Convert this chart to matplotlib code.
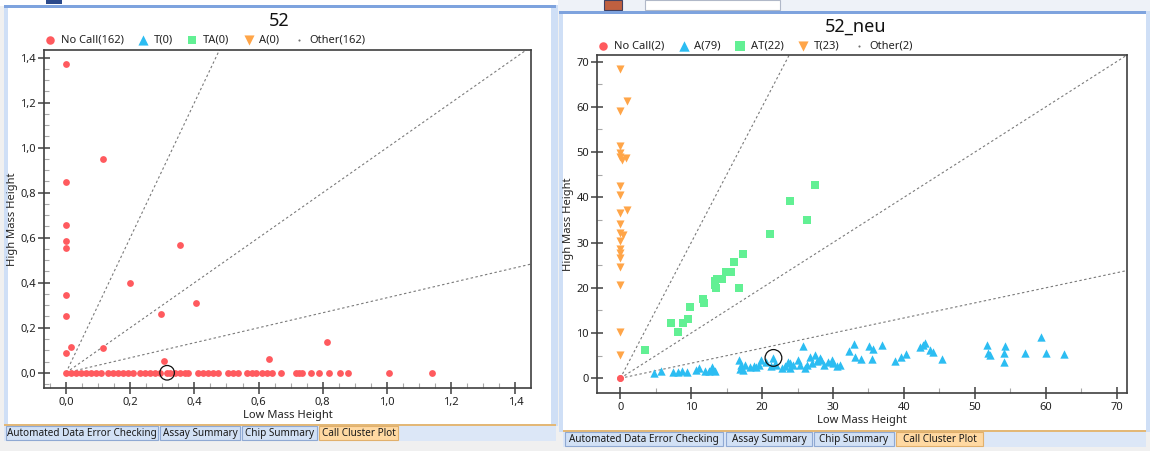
import matplotlib
matplotlib.use("Agg")
import matplotlib.pyplot as plt
from matplotlib.patches import Rectangle
from matplotlib.ticker import MultipleLocator

plt.rcParams['font.family'] = ['Noto Sans', 'DejaVu Sans']

# ---------------- data: left panel "52" ----------------
left_title = "52"
left_legend = ["No Call(162)", "T(0)", "TA(0)", "A(0)", "Other(162)"]
nc_left_x = [0, 0, 0, 0, 0, 0, 0, 0, 0.015, 0.114, 0.116, 0.200, 0.355, 0.405,
             0.297, 0.306, 0.633, 0.814,
             0, 0.016, 0.031, 0.047, 0.062, 0.078, 0.093, 0.109, 0.132, 0.147,
             0.163, 0.179, 0.194, 0.210, 0.231, 0.246, 0.262, 0.277, 0.293, 0.314,
             0.324, 0.340, 0.355, 0.371, 0.381, 0.412, 0.428, 0.443, 0.459, 0.475,
             0.506, 0.521, 0.537, 0.563, 0.578, 0.592, 0.610, 0.625, 0.641, 0.670,
             0.716, 0.726, 0.734, 0.762, 0.788, 0.820, 0.853, 0.877, 1.007, 1.140]
nc_left_y = [1.372, 0.846, 0.656, 0.585, 0.556, 0.345, 0.252, 0.089, 0.116, 0.948,
             0.111, 0.397, 0.567, 0.308, 0.261, 0.052, 0.059, 0.138] + [0.0] * 50
sel_left = (0.315, 0.0)
left_ticks = [0.0, 0.2, 0.4, 0.6, 0.8, 1.0, 1.2, 1.4]
left_ticklabels = ["0,0", "0,2", "0,4", "0,6", "0,8", "1,0", "1,2", "1,4"]

# ---------------- data: right panel "52_neu" ----------------
right_title = "52_neu"
right_legend = ["No Call(2)", "A(79)", "AT(22)", "T(23)", "Other(2)"]
nc_right_x = [0, 0]
nc_right_y = [0, 0]
a_x = [4.7, 5.7, 7.5, 8.2, 8.7, 9.4, 10.7, 11.1, 12.5, 12.9, 13.1, 13.4, 16.8, 16.9,
       17.3, 17.6, 18.3, 19.2, 19.9, 20.6, 21.2, 21.6, 22.8, 23.2, 23.6, 23.9, 24.4,
       25.1, 25.4, 25.7, 26.0, 26.8, 27.0, 27.5, 28.1, 28.3, 28.7, 29.8, 30.0, 30.5,
       32.2, 33.0, 33.1, 34.0, 35.1, 35.5, 35.7, 36.9, 38.8, 39.6, 40.3, 42.3, 42.7,
       43.0, 43.7, 44.1, 45.3, 51.7, 51.9, 52.1, 54.1, 54.3, 54.1, 57.1, 59.4, 60.0,
       62.6, 13.0, 17.0, 19.5, 22.0, 24.0, 26.3, 27.8, 29.3, 31.0, 21.8, 12.0, 18.8]
a_y = [1.1, 1.7, 1.3, 1.3, 1.5, 1.3, 1.8, 2.2, 1.5, 2.6, 1.8, 1.6, 4.1, 2.0,
       1.8, 2.9, 2.4, 2.4, 4.1, 3.7, 2.7, 4.4, 2.2, 2.7, 3.5, 2.2, 2.9,
       4.1, 2.9, 7.1, 2.2, 4.8, 3.3, 5.2, 4.4, 4.1, 2.9, 4.1, 3.3, 2.7,
       6.1, 7.6, 4.8, 4.3, 7.1, 4.2, 6.4, 7.4, 3.8, 4.8, 5.4, 6.9, 7.4,
       7.7, 6.3, 5.9, 4.2, 7.4, 5.5, 5.2, 5.5, 7.1, 3.5, 5.5, 9.1, 5.5,
       5.4, 2.0, 3.0, 3.0, 3.0, 3.3, 3.0, 3.8, 3.5, 3.0, 3.2, 1.7, 2.8]
at_x = [3.5, 7.2, 8.1, 8.8, 9.6, 9.8, 11.7, 11.8, 13.4, 13.5, 13.6, 14.3, 14.9, 15.6,
        16.0, 16.7, 17.3, 21.1, 23.9, 26.3, 27.5, 13.4]
at_y = [6.3, 12.2, 10.3, 12.3, 13.0, 15.8, 17.5, 16.6, 21.4, 19.9, 21.9, 21.9, 23.6, 23.4,
        25.8, 19.9, 27.4, 31.8, 39.2, 34.9, 42.7, 20.6]
t_x = [0, 0.9, 0, 0, 0, 0, 0.8, 0.3, 0, 0, 0.9, 0, 0, 0, 0.4, 0, 0, 0, 0, 0, 0, 0, 0]
t_y = [68.3, 61.2, 59.1, 51.4, 49.9, 49.0, 48.6, 48.3, 42.5, 40.5, 37.2, 36.6, 34.1, 32.1,
       31.7, 30.4, 28.5, 27.6, 26.7, 24.7, 20.6, 10.2, 5.2]
sel_right = (21.6, 4.5)
right_ticks = [0, 10, 20, 30, 40, 50, 60, 70]
right_ticklabels = ["0", "10", "20", "30", "40", "50", "60", "70"]

# boundary line slopes (High/Low ratio)
slopes = [3.0, 1.0, 1.0 / 3.0]

tabs = ["Automated Data Error Checking", "Assay Summary", "Chip Summary", "Call Cluster Plot"]

# ---------------- styling ----------------
RED = "#FF5A5E"
BLUE = "#2CBDF2"
GREEN = "#62F094"
ORANGE = "#FFA548"
W, H = 1150, 451

fig = plt.figure(figsize=(W / 100, H / 100), dpi=100)
fig.patch.set_facecolor("white")


def frect(x0, y0, x1, y1):
    return [x0 / W, 1 - y1 / H, (x1 - x0) / W, (y1 - y0) / H]


def box(x0, y0, x1, y1, fc, ec="none", lw=0, z=0):
    r = Rectangle((x0 / W, 1 - y1 / H), (x1 - x0) / W, (y1 - y0) / H,
                  transform=fig.transFigure, facecolor=fc, edgecolor=ec,
                  linewidth=lw, zorder=z)
    fig.add_artist(r)


# window decoration
box(0, 0, W, H, "#F0F0F0", z=-10)
box(0, 0, 558, 6, "white", z=-9)
box(558, 0, W, 11, "#EEF2F8", z=-9)
box(46, 0, 62, 4, "#2B4A8C", z=-8)
box(604, 0, 622, 10, "#C06040", ec="#404060", lw=0.8, z=-8)
box(645, 0, 780, 10, "white", ec="#B0B8C8", lw=0.8, z=-8)
# left panel
box(4, 5, 558, 426, "#CFDFF6", z=-9)
box(8, 8, 551, 425, "white", z=-8)
box(4, 5, 556, 8, "#7EA3DE", z=-7)
# right panel
box(559, 11, W, 432, "#CFDFF6", z=-9)
box(563, 14, 1146, 431, "white", z=-8)
box(559, 11, 1146, 14, "#7EA3DE", z=-7)


def draw_tabs(x_edges, y0, y1, bar_x1):
    box(x_edges[0][0] - 2, y0, bar_x1, y1, "#DCE7F7", z=-6)
    box(x_edges[0][0] - 2, y0 - 1, bar_x1, y0 + 0.5, "#E3B877", z=-5)
    for i, (lab, (xa, xb)) in enumerate(zip(tabs, x_edges)):
        sel = i == len(tabs) - 1
        box(xa, y0 + 1, xb, y1 - 1, "#FFD9A2" if sel else "#D2E1F5",
            ec="#E1B06C" if sel else "#8FA9D3", lw=0.8, z=-4)
        fig.text((xa + xb) / 2 / W, 1 - ((y0 + y1) / 2 + 0.5) / H, lab,
                 ha="center", va="center", fontsize=7.2, color="#1A1A1A")


draw_tabs([(6, 158), (160, 240), (242, 317), (319, 398)], 425, 441, 556)
draw_tabs([(565, 723), (726, 812), (814, 894), (896, 983)], 431, 447, 1146)


def style_axes(ax, ticks, ticklabels, lim_x, lim_y, minor):
    ax.set_xlim(*lim_x)
    ax.set_ylim(*lim_y)
    ax.set_xticks(ticks)
    ax.set_xticklabels(ticklabels)
    ax.set_yticks(ticks)
    ax.set_yticklabels(ticklabels)
    ax.xaxis.set_minor_locator(MultipleLocator(minor))
    ax.yaxis.set_minor_locator(MultipleLocator(minor))
    ax.tick_params(which="major", direction="inout", length=9, width=1.1,
                   color="#404040", labelsize=8, labelcolor="#222222", pad=1.5)
    ax.tick_params(which="minor", direction="in", length=3.5, width=0.8,
                   color="#A8A8A8")
    for s in ax.spines.values():
        s.set_color("#404040")
        s.set_linewidth(1.2)
    ax.set_xlabel("Low Mass Height", fontsize=8, labelpad=1.5, color="#222222")
    ax.set_ylabel("High Mass Height", fontsize=8, labelpad=2, color="#222222")
    xmax = lim_x[1]
    for s in slopes:
        ax.plot([0, xmax], [0, s * xmax], color="#7A7A7A", lw=0.8,
                linestyle=(0, (2.2, 2.2)), zorder=1)


def add_legend(ax, handles, labels, x_px, y_px):
    ax.legend(handles, labels, loc="center left",
              bbox_to_anchor=(x_px / W, 1 - y_px / H), bbox_transform=fig.transFigure,
              ncol=5, frameon=False, fontsize=8, handlelength=1.0,
              handletextpad=0.45, columnspacing=1.25, borderpad=0,
              borderaxespad=0, markerscale=1.25, labelcolor="#222222")


# ---------------- left panel ----------------
axL = fig.add_axes(frect(44.3, 50, 530.7, 388.3))
style_axes(axL, left_ticks, left_ticklabels, (-0.0676, 1.4477), (-0.069, 1.434), 0.05)
h1 = axL.scatter(nc_left_x, nc_left_y, s=24, c=RED, marker="o", linewidths=0, zorder=3)
h2 = axL.scatter([], [], s=34, c=BLUE, marker="^", linewidths=0)
h3 = axL.scatter([], [], s=26, c=GREEN, marker="s", linewidths=0)
h4 = axL.scatter([], [], s=34, c=ORANGE, marker="v", linewidths=0)
h5 = axL.scatter([], [], s=1.5, c="#707070", marker="o", linewidths=0)
axL.scatter([sel_left[0]], [sel_left[1]], s=110, facecolors="none",
            edgecolors="#111111", linewidths=0.9, zorder=4)
add_legend(axL, [h1, h2, h3, h4, h5], left_legend, 44.5, 40.5)
fig.text(279 / W, 1 - 21 / H, left_title, ha="center", va="center", fontsize=13,
         color="#111111")

# ---------------- right panel ----------------
axR = fig.add_axes(frect(597.3, 55, 1127.3, 393.3))
style_axes(axR, right_ticks, right_ticklabels, (-3.24, 71.5), (-3.32, 71.47), 5)
g2 = axR.scatter(a_x, a_y, s=36, c=BLUE, marker="^", linewidths=0, zorder=3)
g3 = axR.scatter(at_x, at_y, s=27, c=GREEN, marker="s", linewidths=0, zorder=3)
g4 = axR.scatter(t_x, t_y, s=34, c=ORANGE, marker="v", linewidths=0, zorder=3)
g1 = axR.scatter(nc_right_x, nc_right_y, s=24, c=RED, marker="o", linewidths=0, zorder=4)
g5 = axR.scatter([], [], s=1.5, c="#707070", marker="o", linewidths=0)
axR.scatter([sel_right[0]], [sel_right[1]], s=145, facecolors="none",
            edgecolors="#111111", linewidths=0.9, zorder=5)
add_legend(axR, [g1, g2, g3, g4, g5], right_legend, 597.8, 46)
fig.text(855.5 / W, 1 - 27 / H, right_title, ha="center", va="center", fontsize=13,
         color="#111111")

fig.savefig("out.png", dpi=100)
